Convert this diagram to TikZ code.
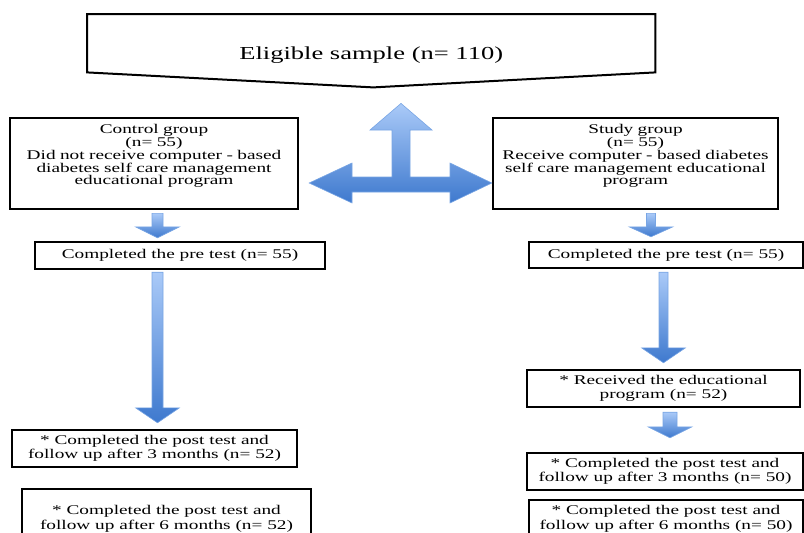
\documentclass[tikz,border=0pt]{standalone}
\usepackage{fontspec}
\setmainfont{Liberation Serif}[FakeStretch=1.45]
\usepackage{tikz}
\usetikzlibrary{calc}
\usetikzlibrary{shadings}
\definecolor{arrowtop}{RGB}{170, 202, 248}
\definecolor{arrowbot}{RGB}{62, 121, 206}
\definecolor{arrowline}{RGB}{120, 165, 228}
% x, upper node, lower node, top gap, tip gap, half shaft, head length
\newcommand{\downblock}[7]{%
  \shadedraw[blockarrow] let \p1=(#2.south), \p2=(#3.north) in
    (#1pt-#6pt,\y1-#4pt) -- (#1pt+#6pt,\y1-#4pt) -- (#1pt+#6pt,\y2+#5pt+#7pt) -- (#1pt+22pt,\y2+#5pt+#7pt)
    -- (#1pt,\y2+#5pt) -- (#1pt-22pt,\y2+#5pt+#7pt) -- (#1pt-#6pt,\y2+#5pt+#7pt) -- cycle;}

\begin{document}
\begin{tikzpicture}[x=1pt, y=1pt,
    box/.style={draw, line width=2.4pt, inner sep=0pt, align=center, font=\fontsize{13.3}{14.5}\selectfont},
    groupbox/.style={box, anchor=north, inner xsep=3pt, font=\fontsize{13.3}{12.7}\selectfont, text height=15.7pt, text depth=75.3pt},
    blockarrow/.style={top color=arrowtop, bottom color=arrowbot, draw=arrowline, line width=0.6pt}]
    \useasboundingbox (0,0) rectangle (804,-533);
    \clip             (0,0) rectangle (804,-533);

    \node[inner sep=0pt, anchor=north west, minimum width=568pt, text height=45pt, text depth=13pt,
          font=\fontsize{18.3}{20}\selectfont] (sample) at (87,-14) {Eligible sample (n= 110)};
    \draw[line width=2pt] (sample.north west) -- (sample.north east) -- (sample.south east)
         -- ($(sample.south)+(2,-15)$) -- (sample.south west) -- cycle;

    \node[groupbox, text width=282pt] (ctrl)  at (154,-117)   {Control group\\(n= 55)\\Did not receive computer - based\\diabetes self care management\\educational program};
    \node[groupbox, text width=279pt] (study) at (635.5,-117) {Study group\\(n= 55)\\Receive computer - based diabetes\\self care management educational\\program};

    \node[box, minimum width=290pt, minimum height=27pt] (ctrlpre)    at (180,-255.5)   {Completed the pre test (n= 55)};
    \node[box, minimum width=274pt, minimum height=26pt] (studypre)   at (666,-255)     {Completed the pre test (n= 55)};
    \node[box, minimum width=285pt, minimum height=37pt] (ctrlpost3)  at (154.5,-448.5) {* Completed the post test and\\follow up after 3 months (n= 52)};
    \node[box, minimum width=289pt, minimum height=60pt] (ctrlpost6)  at (166.5,-519)   {* Completed the post test and\\follow up after 6 months (n= 52)};
    \node[box, minimum width=273pt, minimum height=37pt] (studyrec)   at (663.5,-388.5) {* Received the educational\\program (n= 52)};
    \node[box, minimum width=276pt, minimum height=37pt] (studypost3) at (665,-471.5)   {* Completed the post test and\\follow up after 3 months (n= 50)};
    \node[box, minimum width=274pt, minimum height=38pt] (studypost6) at (666,-519)     {* Completed the post test and\\follow up after 6 months (n= 50)};

    \shadedraw[blockarrow] let \p1=(ctrl.east), \p2=(study.west), \p3=(sample.south) in
        (401pt,\y3-31pt) -- (432,-130) -- (410,-130) -- (410,-177) -- (450,-177) -- (450,-163)
        -- (\x2,-183pt) -- (450,-203) -- (450,-192) -- (352,-192) -- (352,-203)
        -- (\x1+10pt,-183pt) -- (352,-163) -- (352,-177) -- (392,-177) -- (392,-130) -- (370,-130) -- cycle;

    \downblock{157.5}{ctrl}{ctrlpre}{3}{3}{5.5}{11}
    \downblock{157.5}{ctrlpre}{ctrlpost3}{2}{6}{5.5}{15}
    \downblock{651}{study}{studypre}{3}{4}{4.5}{10}
    \downblock{663.5}{studypre}{studyrec}{3}{6}{4.5}{15}
    \downblock{670}{studyrec}{studypost3}{4}{14}{7}{11}
\end{tikzpicture}
\end{document}
